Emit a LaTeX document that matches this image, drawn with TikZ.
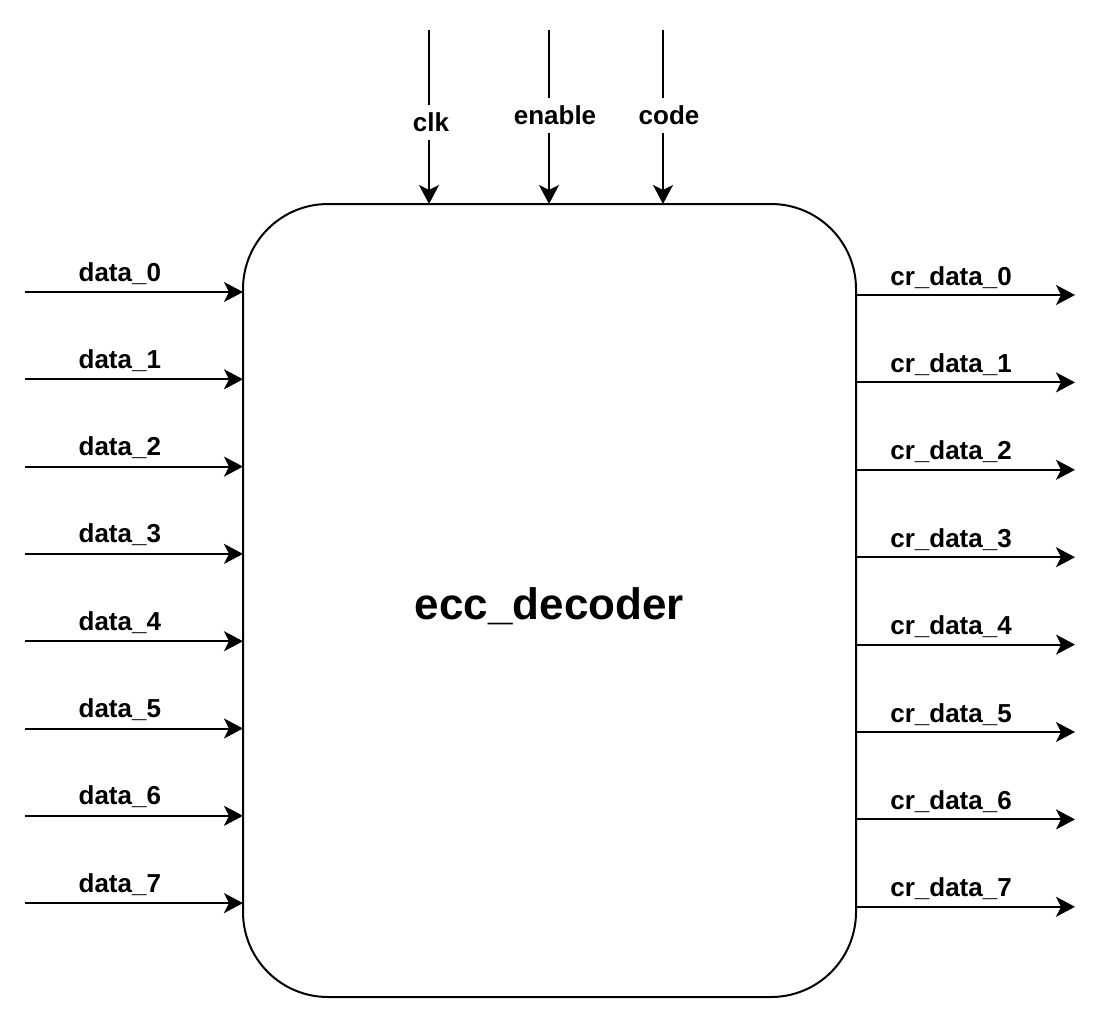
\documentclass[tikz,border=0pt]{standalone}
\usepackage{fontspec}
\setmainfont{Liberation Sans}
\usetikzlibrary{arrows.meta,positioning}
\tikzset{
  edgein/.style={black, line width=2pt, -{Stealth[length=19pt,width=20pt,inset=5pt]}},
  edgeout/.style={black, line width=2pt, -{Stealth[length=19pt,width=20pt,inset=5pt]}},
  edgectl/.style={black, line width=2pt, -{Stealth[length=19pt,width=20pt,inset=5pt]}},
  portlbl/.style={font=\fontsize{26}{30}\selectfont\bfseries, inner sep=0pt, anchor=base},
  ctllbl/.style={font=\fontsize{26}{30}\selectfont\bfseries, fill=white, inner xsep=2pt, inner ysep=8pt},
  block/.style={draw, line width=2pt, rounded corners=85pt, inner sep=0pt, outer sep=0pt,
    minimum width=613pt, minimum height=793pt}
}

\begin{document}
\begin{tikzpicture}[x=1pt, y=-1pt]
\useasboundingbox (0,0) rectangle (1102,1022);
\node[block] (dec) at (549.5,600.5) {};
\node[font=\fontsize{44}{50}\selectfont\bfseries, yshift=-6pt] (title) at (dec.center) {ecc\_decoder};
% control inputs
\coordinate (clk) at (429,30);
\coordinate (enable) at (549,30);
\coordinate (code) at (663,30);
\draw[edgectl] (clk) -- (clk |- dec.north) node[ctllbl, pos=0.53, xshift=2pt] {clk};
\draw[edgectl] (enable) -- (enable |- dec.north) node[ctllbl, pos=0.49, xshift=6pt] {enable};
\draw[edgectl] (code) -- (code |- dec.north) node[ctllbl, pos=0.49, xshift=6pt] {code};
% data inputs and outputs
\foreach \i in {0,...,7} {
  \coordinate (din\i) at (25,{292+87.3*\i});
  \coordinate (dout\i) at (1075,{295+87.4*\i});
  \draw[edgein] (din\i) -- (din\i -| dec.west)
    node[portlbl, pos=0.435, yshift=11pt] {data\_\i};
  \draw[edgeout] (dout\i -| dec.east) -- (dout\i)
    node[portlbl, pos=0.434, yshift=10pt] {cr\_data\_\i};
}
\end{tikzpicture}
\end{document}
